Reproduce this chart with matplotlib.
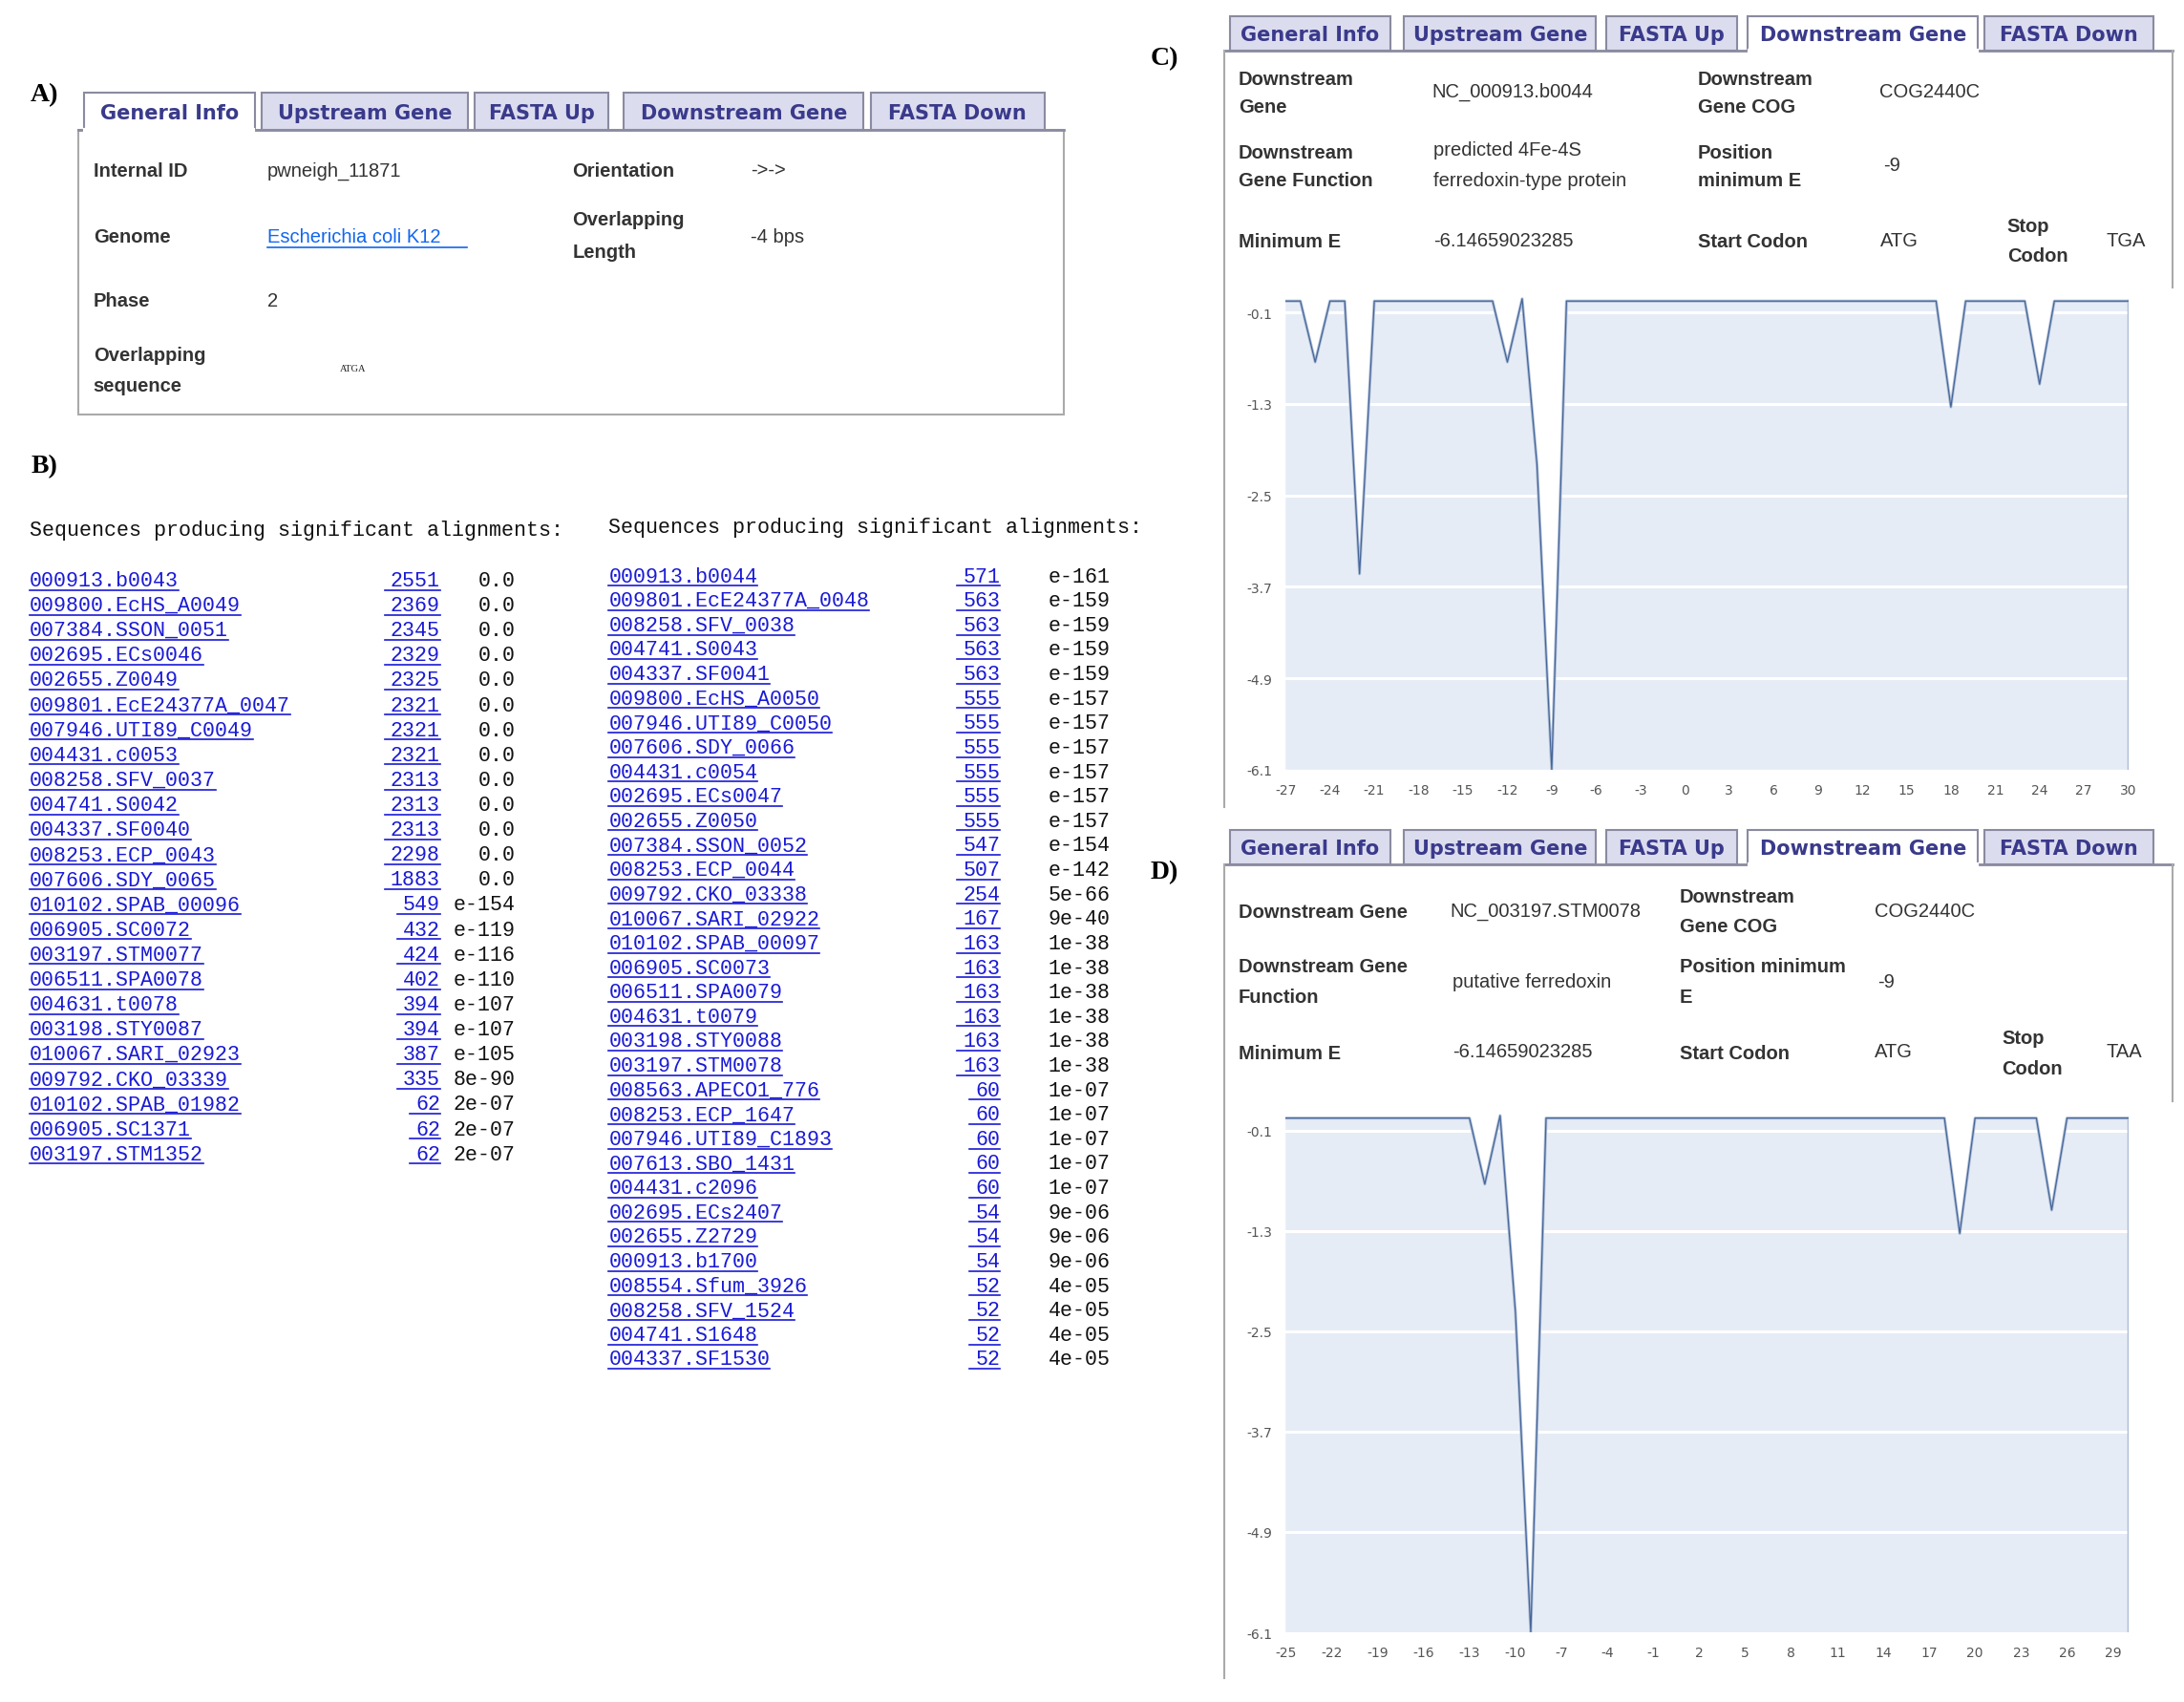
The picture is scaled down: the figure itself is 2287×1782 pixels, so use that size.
import matplotlib
matplotlib.use("Agg")
import matplotlib.pyplot as plt
from matplotlib.patches import Rectangle

W, H = 1568, 1222
tabs = ["General Info", "Upstream Gene", "FASTA Up", "Downstream Gene", "FASTA Down"]

left_names = ["000913.b0043","009800.EcHS_A0049","007384.SSON_0051","002695.ECs0046","002655.Z0049",
 "009801.EcE24377A_0047","007946.UTI89_C0049","004431.c0053","008258.SFV_0037","004741.S0042",
 "004337.SF0040","008253.ECP_0043","007606.SDY_0065","010102.SPAB_00096","006905.SC0072",
 "003197.STM0077","006511.SPA0078","004631.t0078","003198.STY0087","010067.SARI_02923",
 "009792.CKO_03339","010102.SPAB_01982","006905.SC1371","003197.STM1352"]
left_scores = ["2551","2369","2345","2329","2325","2321","2321","2321","2313","2313","2313","2298",
 "1883","549","432","424","402","394","394","387","335","62","62","62"]
left_evals = ["0.0"]*13 + ["e-154","e-119","e-116","e-110","e-107","e-107","e-105","8e-90",
 "2e-07","2e-07","2e-07"]

right_names = ["000913.b0044","009801.EcE24377A_0048","008258.SFV_0038","004741.S0043","004337.SF0041",
 "009800.EcHS_A0050","007946.UTI89_C0050","007606.SDY_0066","004431.c0054","002695.ECs0047",
 "002655.Z0050","007384.SSON_0052","008253.ECP_0044","009792.CKO_03338","010067.SARI_02922",
 "010102.SPAB_00097","006905.SC0073","006511.SPA0079","004631.t0079","003198.STY0088",
 "003197.STM0078","008563.APECO1_776","008253.ECP_1647","007946.UTI89_C1893","007613.SBO_1431",
 "004431.c2096","002695.ECs2407","002655.Z2729","000913.b1700","008554.Sfum_3926",
 "008258.SFV_1524","004741.S1648","004337.SF1530"]
right_scores = ["571","563","563","563","563","555","555","555","555","555","555","547","507","254",
 "167","163","163","163","163","163","163","60","60","60","60","60","54","54","54","52","52","52","52"]
right_evals = ["e-161","e-159","e-159","e-159","e-159","e-157","e-157","e-157","e-157","e-157",
 "e-157","e-154","e-142","5e-66","9e-40","1e-38","1e-38","1e-38","1e-38","1e-38","1e-38",
 "1e-07","1e-07","1e-07","1e-07","1e-07","9e-06","9e-06","9e-06","4e-05","4e-05","4e-05","4e-05"]

c_pos = list(range(-27, 31))
c_energy = [0.05,0.05,-0.75,0.05,0.05,-3.53] + [0.05]*9 + [-0.75,0.08,-2.09,-6.1] \
    + [0.05]*26 + [-1.34] + [0.05]*5 + [-1.04] + [0.05]*6
d_pos = list(range(-25, 31))
d_energy = [0.05]*13 + [-0.74,0.08,-2.27,-6.1] + [0.05]*27 + [-1.33] + [0.05]*5 + [-1.05] + [0.05]*5
c_yticks = [-0.1,-1.3,-2.5,-3.7,-4.9,-6.1]
c_xticks = list(range(-27, 31, 3))
d_xticks = list(range(-25, 30, 3))

fig = plt.figure(figsize=(22.87, 17.83), dpi=100)
ax = fig.add_axes([0, 0, 1, 1])
ax.set_xlim(0, W); ax.set_ylim(H, 0); ax.axis("off")

SANS = "Liberation Sans"
MONO = "Liberation Mono"
TABC = "#3a3a8c"
LAB = "#333333"

def T(x, y, s, size=14.5, **kw):
    kw.setdefault("va", "center")
    kw.setdefault("family", SANS)
    kw.setdefault("color", LAB)
    ax.text(x, y, s, fontsize=size, **kw)

def draw_tabs(xs, y0, y1, active, bx0, bx1):
    for (a, b), name in zip(xs, tabs):
        act = name == active
        ax.add_patch(Rectangle((a, y0), b - a, y1 - y0, facecolor="white" if act else "#dcdcef",
                               edgecolor="#8a8aa0", lw=1.5, zorder=2))
        ax.text((a + b) / 2, (y0 + y1) / 2 + 1, name, fontsize=15, family="DejaVu Sans",
                fontweight="bold", color=TABC, ha="center", va="center", zorder=3)
    ax.plot([bx0, bx1], [y1, y1], color="#8a8aa0", lw=2, zorder=1)
    a, b = xs[tabs.index(active)]
    ax.plot([a + 1, b - 1], [y1, y1], color="white", lw=3, zorder=4)

def label(x, y, s):
    ax.text(x, y, s, fontsize=20, family="Liberation Serif", fontweight="bold", va="center")

# ---------------- A ----------------
label(22, 68, "A)")
ax.add_patch(Rectangle((56, 94), 708, 204, facecolor="white", edgecolor="#aaaaaa", lw=1.5))
draw_tabs([(60,183),(188,336),(341,437),(448,620),(625,750)], 67, 94, "General Info", 56, 764)
T(67, 123, "Internal ID", fontweight="bold")
T(192, 123, "pwneigh_11871")
T(411, 123, "Orientation", fontweight="bold")
T(539, 123, "->->")
T(67, 170, "Genome", fontweight="bold")
T(192, 170, "Escherichia coli K12", color="#1166ee")
ax.plot([192, 335], [178, 178], color="#1166ee", lw=1.2)
T(411, 158, "Overlapping", fontweight="bold")
T(411, 181, "Length", fontweight="bold")
T(539, 170, "-4 bps")
T(67, 216, "Phase", fontweight="bold")
T(192, 216, "2")
T(67, 255, "Overlapping", fontweight="bold")
T(67, 277, "sequence", fontweight="bold")
T(244, 265, "ATGA", size=7.5, family="Liberation Serif", color="#222222")

# ---------------- B ----------------
label(22, 335, "B)")
MS = 15.6
cw = MS / 1.05 * 0.6
LINK = "#1a1ad6"

def blast(x0, y0, dy, names, scores, evals, xs_right, xe_right, header_y):
    T(x0, header_y, "Sequences producing significant alignments:", size=MS, family=MONO, color="#111111")
    for i, (n, s, e) in enumerate(zip(names, scores, evals)):
        y = y0 + i * dy
        T(x0, y, n, size=MS, family=MONO, color=LINK)
        ax.plot([x0, x0 + len(n) * cw], [y + 7, y + 7], color=LINK, lw=1.2)
        T(xs_right, y, s, size=MS, family=MONO, color=LINK, ha="right")
        ax.plot([xs_right - len(s) * cw - 4, xs_right], [y + 7, y + 7], color=LINK, lw=1.2)
        T(xe_right, y, e, size=MS, family=MONO, color="#111111", ha="right")

blast(21, 417, 17.9, left_names, left_scores, left_evals, 316, 370, 381)
blast(437, 414, 17.56, right_names, right_scores, right_evals, 718, 797, 379)

# ---------------- C / D ----------------
def panel(lab, ly, ty0, ty1, bottom, rows):
    label(826, ly, lab)
    ax.plot([879, 879], [ty1, bottom], color="#aaaaaa", lw=1.5)
    ax.plot([1560, 1560], [ty1, ty1 + 170], color="#aaaaaa", lw=1.5)
    draw_tabs([(883,998),(1008,1146),(1153,1247),(1255,1420),(1425,1546)], ty0, ty1,
              "Downstream Gene", 879, 1560)
    for x, y, s, bold in rows:
        T(x, y, s, fontweight="bold" if bold else "normal")

panel("C)", 42, 12, 37, 580, [
    (889, 57, "Downstream", True), (889, 77, "Gene", True), (1028, 66, "NC_000913.b0044", False),
    (1219, 57, "Downstream", True), (1219, 77, "Gene COG", True), (1349, 66, "COG2440C", False),
    (889, 110, "Downstream", True), (889, 130, "Gene Function", True),
    (1029, 108, "predicted 4Fe-4S", False), (1029, 130, "ferredoxin-type protein", False),
    (1219, 110, "Position", True), (1219, 130, "minimum E", True), (1352, 119, "-9", False),
    (889, 174, "Minimum E", True), (1029, 173, "-6.14659023285", False),
    (1219, 174, "Start Codon", True), (1350, 173, "ATG", False),
    (1441, 163, "Stop", True), (1441, 184, "Codon", True), (1512, 173, "TGA", False)])

panel("D)", 626, 596, 621, 1205, [
    (889, 655, "Downstream Gene", True), (1041, 654, "NC_003197.STM0078", False),
    (1206, 644, "Downstream", True), (1206, 665, "Gene COG", True), (1346, 654, "COG2440C", False),
    (889, 694, "Downstream Gene", True), (889, 716, "Function", True),
    (1043, 705, "putative ferredoxin", False),
    (1206, 694, "Position minimum", True), (1206, 716, "E", True), (1348, 705, "-9", False),
    (889, 756, "Minimum E", True), (1043, 755, "-6.14659023285", False),
    (1206, 756, "Start Codon", True), (1346, 755, "ATG", False),
    (1437, 745, "Stop", True), (1437, 767, "Codon", True), (1512, 755, "TAA", False)])

def chart(x0, x1, ytop, ybot, xs, ys, xticks, xlim):
    a = fig.add_axes([x0 / W, 1 - ybot / H, (x1 - x0) / W, (ybot - ytop) / H])
    a.fill_between(xs, ys, -6.1, facecolor="#e6ecf6", edgecolor="none", zorder=1)
    for t in c_yticks[:-1]:
        a.axhline(t, color="white", lw=2.2, zorder=2)
    a.plot(xs, ys, color="#b0bfd6", lw=2.2, zorder=3)
    a.plot(xs, ys, color="#45669a", lw=0.9, zorder=4)
    a.plot([xs[-1], xs[-1]], [ys[-1], -6.1], color="#a9b9d3", lw=2.5, zorder=3)
    a.set_xlim(xlim); a.set_ylim(-6.1, 0.1)
    a.set_yticks(c_yticks); a.set_xticks(xticks)
    a.set_yticklabels([f"{v:.1f}" for v in c_yticks])
    a.set_xticklabels([str(v) for v in xticks])
    a.tick_params(length=0, labelsize=10, labelcolor="#555555", pad=10)
    for s in a.spines.values():
        s.set_visible(False)
    a.patch.set_alpha(0)

chart(923, 1528, 214, 553, c_pos, c_energy, c_xticks, (-27, 30))
chart(923, 1528, 800, 1172, d_pos, d_energy, d_xticks, (-25, 30))

fig.savefig("out.png", dpi=100)
